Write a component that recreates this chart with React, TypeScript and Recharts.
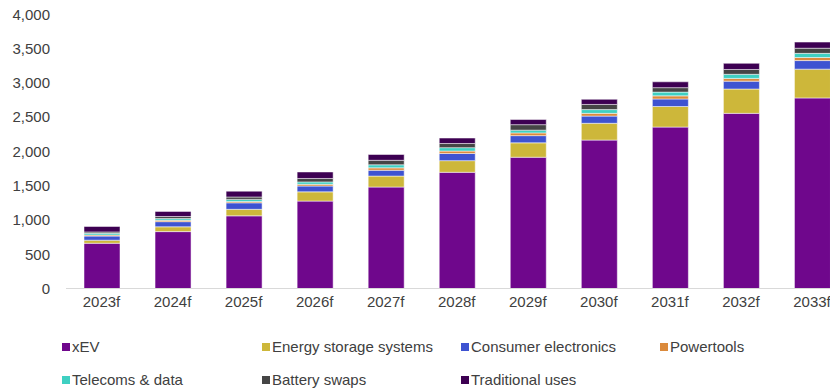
import React from "react";
import { BarChart, Bar, XAxis, YAxis } from "recharts";

const categories = ["2023f", "2024f", "2025f", "2026f", "2027f", "2028f", "2029f", "2030f", "2031f", "2032f", "2033f"];
const xEV = [660, 830, 1060, 1275, 1480, 1695, 1915, 2165, 2355, 2555, 2780];
const energyStorage = [45, 70, 95, 135, 160, 170, 210, 245, 300, 355, 420];
const consumerElectronics = [60, 75, 95, 85, 85, 105, 105, 105, 110, 115, 125];
const powertools = [15, 20, 20, 25, 35, 35, 40, 40, 45, 40, 45];
const telecoms = [25, 25, 30, 35, 45, 50, 40, 55, 55, 60, 60];
const batterySwaps = [20, 30, 35, 50, 65, 60, 80, 75, 65, 70, 75];
const traditionalUses = [80, 75, 85, 95, 85, 80, 75, 75, 85, 90, 90];
const yTicks = [0, 500, 1000, 1500, 2000, 2500, 3000, 3500, 4000];

const series = [
  { key: "xEV", name: "xEV", values: xEV, color: "#6F078C" },
  { key: "ess", name: "Energy storage systems", values: energyStorage, color: "#CDB73A" },
  { key: "ce", name: "Consumer electronics", values: consumerElectronics, color: "#3E53D1" },
  { key: "pt", name: "Powertools", values: powertools, color: "#DB8A3C" },
  { key: "tel", name: "Telecoms & data", values: telecoms, color: "#3FD0C2" },
  { key: "bs", name: "Battery swaps", values: batterySwaps, color: "#454545" },
  { key: "tr", name: "Traditional uses", values: traditionalUses, color: "#3D0052" },
];

const data = categories.map((c, i) => {
  const row: Record<string, string | number> = { name: c };
  series.forEach((s) => {
    row[s.key] = s.values[i];
  });
  return row;
});

const legendPos = [
  { left: 62, top: 338 },
  { left: 262, top: 338 },
  { left: 461, top: 338 },
  { left: 660, top: 338 },
  { left: 62, top: 371 },
  { left: 262, top: 371 },
  { left: 461, top: 371 },
];

const font = "'Liberation Sans', Arial, sans-serif";

export default function App() {
  return (
    <div style={{ position: "absolute", left: 0, top: 0, width: 830, height: 391, overflow: "hidden", background: "#fff", fontFamily: font }}>
      <BarChart
        width={860}
        height={330}
        data={data}
        margin={{ top: 14.3, right: 12.5, left: 0, bottom: 0 }}
        barSize={36}
      >
        <XAxis
          dataKey="name"
          axisLine={{ stroke: "#D9D9D9", strokeWidth: 1 }}
          tickLine={false}
          height={41.5}
          interval={0}
          tick={{ fill: "#404040", fontSize: 15, fontFamily: font }}
        />
        <YAxis
          domain={[0, 4000]}
          ticks={yTicks}
          width={66}
          axisLine={false}
          tickLine={false}
          tickMargin={10}
          interval={0}
          tickFormatter={(v: number) => v.toLocaleString("en-US")}
          tick={{ fill: "#404040", fontSize: 15, fontFamily: font }}
        />
        {series.map((s) => (
          <Bar
            key={s.key}
            dataKey={s.key}
            name={s.name}
            stackId="a"
            fill={s.color}
            stroke="#ffffff"
            strokeWidth={0.5}
            isAnimationActive={false}
          />
        ))}
      </BarChart>
      {series.map((s, i) => (
        <div
          key={s.key}
          style={{
            position: "absolute",
            left: legendPos[i].left,
            top: legendPos[i].top,
            display: "flex",
            alignItems: "center",
            fontSize: 15,
            color: "#404040",
            whiteSpace: "nowrap",
            lineHeight: "17px",
          }}
        >
          <span style={{ display: "inline-block", width: 8, height: 8, background: s.color, marginRight: 2 }} />
          <span>{s.name}</span>
        </div>
      ))}
    </div>
  );
}
